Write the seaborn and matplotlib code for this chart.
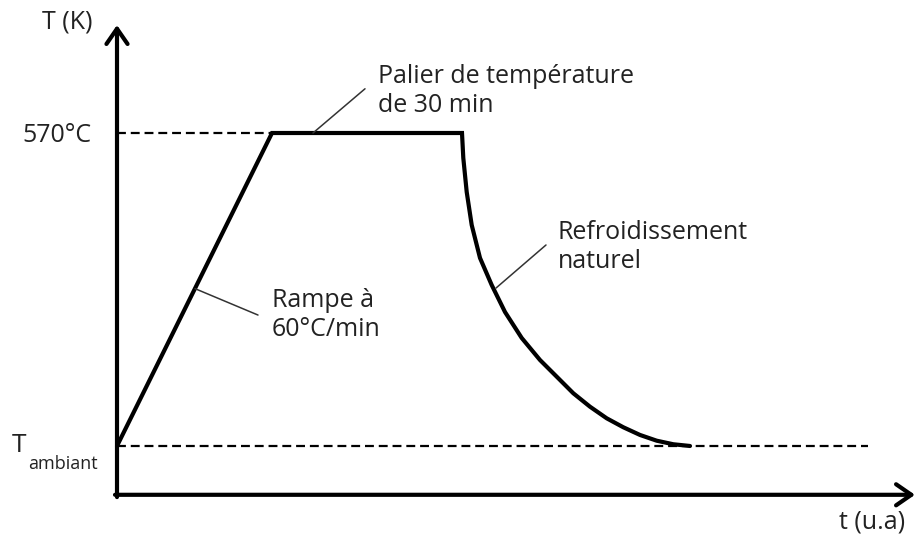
import numpy as np
import pandas as pd
import seaborn as sns
import matplotlib.pyplot as plt

# Temperature profile (t in u.a., T in degC)
t_profile = [0, 15.5, 34.5, 34.63, 34.97, 35.47, 36.3, 37.47, 38.8, 40.47, 42.3,
             43.97, 45.63, 47.3, 48.97, 50.63, 52.3, 53.97, 55.63, 57.3]
T_profile = [25, 570, 570, 526.5, 467.3, 409.8, 352.4, 305.3, 258.3, 213.1, 174.7,
             145.7, 116.8, 93.4, 73.2, 57.6, 44.2, 34.2, 28, 25]

T_ambiant = 25
T_palier = 570
t_ramp_end = 15.5
t_dash_end = 75.1

# Annotation anchors (point on curve, end of leader line)
leader_points = {
    "palier": [(19.6, 570), (24.8, 647)],
    "rampe": [(7.8, 299), (14.1, 253)],
    "refroid": [(37.9, 300), (42.9, 375)],
}

sns.set_style("white")
plt.rcParams['font.family'] = ['Open Sans', 'DejaVu Sans']

fig = plt.figure(figsize=(9.23, 5.42), dpi=100)
ax = fig.add_axes([0, 0, 1, 1])
ax.set_xlim(-11.7, 80.6)
ax.set_ylim(-142.2, 801.6)
ax.axis('off')

# dashed reference levels
ax.plot([0, t_ramp_end], [T_palier, T_palier], color='black', lw=1.6, ls=(0, (4, 2.2)))
ax.plot([0, t_dash_end], [T_ambiant, T_ambiant], color='black', lw=1.6, ls=(0, (4, 2.2)))

# main profile
df = pd.DataFrame({"t": t_profile, "T": T_profile})
sns.lineplot(data=df, x="t", y="T", sort=False, estimator=None, color='black',
             lw=3, ax=ax, solid_joinstyle='miter')

# axes with arrows
arrow = dict(arrowstyle='->,head_length=0.55,head_width=0.38', lw=3, color='black',
             shrinkA=0, shrinkB=0, mutation_scale=20)
ax.annotate('', xy=(0, 758), xytext=(0, -64), arrowprops=arrow)
ax.annotate('', xy=(79.8, -60), xytext=(-0.2, -60), arrowprops=arrow)

# leader lines
for (p0, p1) in leader_points.values():
    ax.plot([p0[0], p1[0]], [p0[1], p1[1]], color='#333333', lw=1.1)

fs = 18
tc = '#222222'
ax.text(-5.0, 763, "T (K)", fontsize=fs, color=tc, ha='center', va='center')
ax.text(-2.6, 565, "570°C", fontsize=fs, color=tc, ha='right', va='center')
ax.text(-10.5, 25, "T", fontsize=19, color=tc, ha='left', va='center')
ax.text(-8.9, -6, "ambiant", fontsize=13, color=tc, ha='left', va='center')
ax.text(26.1, 690, "Palier de température\nde 30 min", fontsize=fs, color=tc,
        ha='left', va='top', linespacing=1.2)
ax.text(44.1, 418, "Refroidissement\nnaturel", fontsize=fs, color=tc,
        ha='left', va='top', linespacing=1.2)
ax.text(15.5, 300, "Rampe à\n60°C/min", fontsize=fs, color=tc,
        ha='left', va='top', linespacing=1.2)
ax.text(75.5, -107, "t (u.a)", fontsize=fs, color=tc, ha='center', va='center')

fig.savefig("out.png", dpi=100)
